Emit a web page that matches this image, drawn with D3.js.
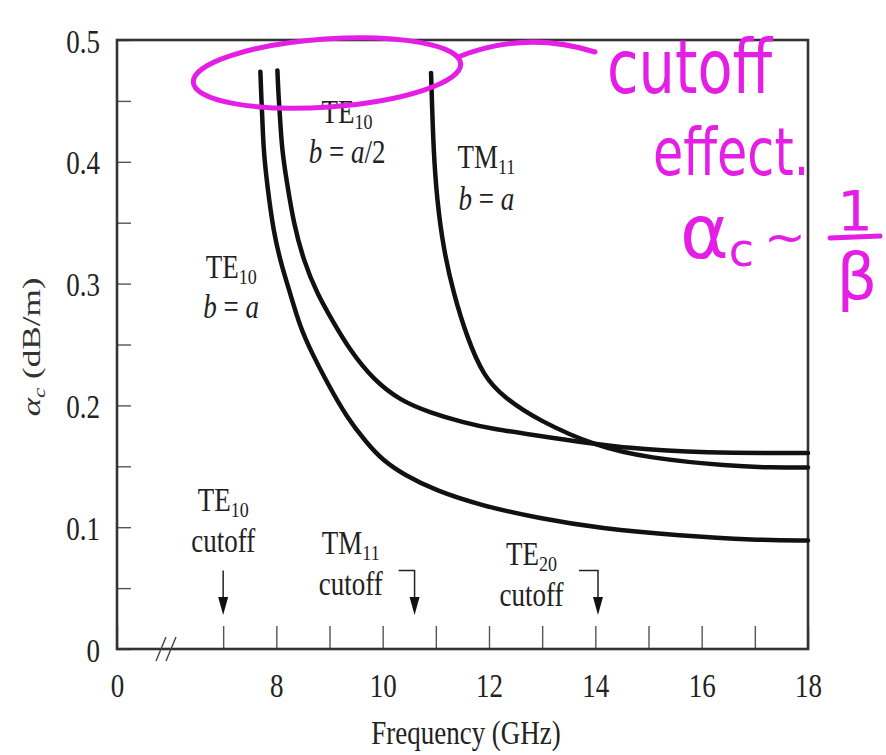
<!DOCTYPE html>
<html>
<head>
<meta charset="utf-8">
<script src="https://cdn.jsdelivr.net/npm/d3@7"></script>
<style>
  html, body { margin: 0; padding: 0; background: #fff; }
  svg { display: block; }
  .serif { font-family: "Liberation Serif", "Times New Roman", serif; fill: #222; }
  .hand { font-family: "DejaVu Sans", sans-serif; fill: #e41ee4; }
</style>
</head>
<body>
<svg id="chart" width="886" height="755"></svg>
<script>
// attenuation curves, [frequency GHz, alpha_c dB/m]
const te10Square = [
  [7.70, 0.474], [7.72, 0.450], [7.73, 0.443], [7.758, 0.410], [7.822, 0.383], [7.946, 0.342],
  [8.104, 0.314], [8.261, 0.292], [8.449, 0.264], [8.669, 0.243], [8.951, 0.219],
  [9.327, 0.190], [9.704, 0.169], [10.0, 0.155], [10.4, 0.143], [11.0, 0.130],
  [11.835, 0.118], [12.964, 0.107], [14.093, 0.099], [15.598, 0.093], [17.0, 0.0895], [18.0, 0.089]
];
const te10Half = [
  [8.02, 0.475], [8.04, 0.455], [8.06, 0.443], [8.104, 0.410], [8.199, 0.383], [8.323, 0.350],
  [8.511, 0.319], [8.763, 0.292], [9.075, 0.268], [9.389, 0.245], [9.828, 0.221],
  [10.33, 0.204], [10.895, 0.194], [11.52, 0.186], [12.02, 0.181], [13.1, 0.174],
  [14.66, 0.164], [16.22, 0.161], [17.2, 0.161], [18.0, 0.161]
];
const tm11Square = [
  [10.91, 0.473], [10.93, 0.445], [10.957, 0.410], [11.02, 0.369], [11.145, 0.328], [11.333, 0.292],
  [11.585, 0.256], [11.897, 0.224], [12.268, 0.207], [12.908, 0.188], [14.037, 0.166],
  [14.977, 0.157], [16.54, 0.150], [17.3, 0.149], [18.0, 0.149]
];

// cutoff markers
const cutoffModes = [["TE", "10"], ["TM", "11"], ["TE", "20"]];
const cutoffFreqs = [7.0, 10.6, 14.05];

const xTicks = [0, 7, 8, 9, 10, 11, 12, 13, 14, 15, 16, 17, 18];
const xTickLabels = ["0", "", "8", "", "10", "", "12", "", "14", "", "16", "", "18"];
const yTicks = d3.range(0, 11).map((i) => i * 0.05);
const yTickLabels = ["0", "", "0.1", "", "0.2", "", "0.3", "", "0.4", "", "0.5"];

const svg = d3.select("#chart");
const dims = { left: 117, right: 808, top: 40, bottom: 649 };

// broken axis: 0..6 squeezed into the first bit
const x = d3.scaleLinear().domain([0, 6, 18]).range([dims.left, 170, dims.right]);
const y = d3.scaleLinear().domain([0, 0.5]).range([dims.bottom, dims.top]);

const fontSize = 27;
const stretch = 1.22; // the scanned figure is a bit taller than it is wide

// keep the baseline at (x, y) and stretch the text vertically
function stretchText(sel, sy = stretch) {
  sel.each(function () {
    const t = d3.select(this);
    const tx = +t.attr("x") || 0;
    const ty = +t.attr("y") || 0;
    t.attr("x", 0).attr("y", 0)
      .attr("transform", `translate(${tx},${ty}) scale(1,${sy})`);
  });
}

// axes
const xAxis = svg.append("g")
  .attr("transform", `translate(0,${dims.bottom})`)
  .call(d3.axisBottom(x)
    .tickValues(xTicks)
    .tickSize(-23)
    .tickFormat((d, i) => xTickLabels[i]));

const yAxis = svg.append("g")
  .attr("transform", `translate(${dims.left},0)`)
  .call(d3.axisLeft(y)
    .tickValues(yTicks)
    .tickSize(-14)
    .tickFormat((d, i) => yTickLabels[i]));

[xAxis, yAxis].forEach((g) => {
  g.select(".domain").remove();
  g.selectAll(".tick line").attr("stroke", "#555").attr("stroke-width", 1.4);
  g.selectAll(".tick text")
    .attr("class", "serif")
    .style("font-size", fontSize + "px")
    .attr("dy", null);
});
xAxis.selectAll(".tick text").attr("x", 0).attr("y", 48).call(stretchText);
yAxis.selectAll(".tick text").attr("x", -17).attr("y", 12).call(stretchText);

// frame
svg.append("rect")
  .attr("x", dims.left)
  .attr("y", dims.top)
  .attr("width", dims.right - dims.left)
  .attr("height", dims.bottom - dims.top)
  .attr("fill", "none")
  .attr("stroke", "#333")
  .attr("stroke-width", 2.6);

// axis break marks
const bx = x(0) + 44;
[0, 10].forEach((off) => {
  svg.append("line")
    .attr("x1", bx + off - 5).attr("y1", dims.bottom + 12)
    .attr("x2", bx + off + 5).attr("y2", dims.bottom - 12)
    .attr("stroke", "#444").attr("stroke-width", 1.4);
});

// axis titles
svg.append("text")
  .attr("class", "serif")
  .attr("x", 466)
  .attr("y", 744)
  .attr("text-anchor", "middle")
  .style("font-size", fontSize + "px")
  .text("Frequency (GHz)")
  .call(stretchText);

const yTitle = svg.append("text")
  .attr("class", "serif")
  .attr("transform", `translate(40,347) rotate(-90) scale(1.35,1)`)
  .attr("text-anchor", "middle")
  .style("font-size", "26px")
  .style("fill", "#333");
yTitle.append("tspan").attr("font-style", "italic").text("α");
yTitle.append("tspan").attr("font-style", "italic").attr("font-size", "17px").attr("dy", 5).text("c");
yTitle.append("tspan").attr("dy", -5).text(" (dB/m)");

// curves
const line = d3.line()
  .x((d) => x(d[0]))
  .y((d) => y(d[1]))
  .curve(d3.curveBasis);

svg.append("g")
  .attr("fill", "none")
  .attr("stroke", "#111")
  .attr("stroke-width", 4.5)
  .attr("stroke-linecap", "round")
  .selectAll("path")
  .data([te10Square, te10Half, tm11Square])
  .join("path")
  .attr("d", line);

// two-line labels: mode name with subscript, then a second line
function twoLine(cx, cy, name, sub, second, gap) {
  const t = svg.append("text")
    .attr("class", "serif")
    .attr("x", cx)
    .attr("y", cy)
    .attr("text-anchor", "middle")
    .style("font-size", fontSize + "px");
  t.append("tspan").text(name);
  t.append("tspan").attr("font-size", "18px").attr("dy", 5).text(sub);
  t.call(stretchText);
  const s = svg.append("text")
    .attr("class", "serif")
    .attr("x", cx)
    .attr("y", cy + gap)
    .attr("text-anchor", "middle")
    .style("font-size", fontSize + "px");
  second.forEach(([str, it]) => s.append("tspan").attr("font-style", it ? "italic" : null).text(str));
  s.call(stretchText);
}

twoLine(x(9.33), y(0.432), "TE", "10", [["b", 1], [" = ", 0], ["a", 1], ["/2", 0]], 40);
twoLine(x(11.95), y(0.395), "TM", "11", [["b", 1], [" = ", 0], ["a", 1]], 42);
twoLine(x(7.15), y(0.305), "TE", "10", [["b", 1], [" = ", 0], ["a", 1]], 40);

// cutoff labels and arrows
const labelOffsets = [[0, 0.113], [-1.2, 0.078], [-1.25, 0.069]];
const hookLen = [0, 16, 19];
cutoffFreqs.forEach((f, i) => {
  const [name, sub] = cutoffModes[i];
  twoLine(x(f + labelOffsets[i][0]), y(labelOffsets[i][1]), name, sub, [["cutoff", 0]], 41);

  const ax = x(f);
  const top = y(0.0645);
  const tip = y(0.028);
  const path = d3.path();
  if (hookLen[i]) {
    path.moveTo(ax - hookLen[i], top);
    path.lineTo(ax, top);
  } else {
    path.moveTo(ax, top);
  }
  path.lineTo(ax, tip - 12);
  svg.append("path").attr("d", path.toString())
    .attr("fill", "none").attr("stroke", "#222").attr("stroke-width", 1.5);
  svg.append("path")
    .attr("d", `M${ax - 5},${tip - 18} L${ax + 5},${tip - 18} L${ax},${tip} Z`)
    .attr("fill", "#111");
});

// handwritten annotation
const ink = "#e41ee4";
svg.append("ellipse")
  .attr("transform", "translate(327,73) rotate(-4)")
  .attr("rx", 134).attr("ry", 34)
  .attr("fill", "none").attr("stroke", ink).attr("stroke-width", 5);
svg.append("path")
  .attr("d", "M458,57 Q525,30 595,52")
  .attr("fill", "none").attr("stroke", ink).attr("stroke-width", 5)
  .attr("stroke-linecap", "round");

svg.append("text").attr("class", "hand")
  .attr("transform", "translate(607,93) scale(0.776,1)")
  .style("font-size", "74px")
  .text("cutoff");
svg.append("text").attr("class", "hand")
  .attr("transform", "translate(653,175) scale(0.745,1)")
  .style("font-size", "66px")
  .text("effect.");
const formula = svg.append("text").attr("class", "hand")
  .attr("x", 680).attr("y", 258)
  .style("font-size", "74px");
formula.append("tspan").text("α");
formula.append("tspan").attr("font-size", "46px").attr("dy", 8).text("c");
formula.append("tspan").attr("font-size", "50px").attr("dy", -12).attr("dx", 10).text("~");
svg.append("text").attr("class", "hand")
  .attr("x", 855).attr("y", 230).attr("text-anchor", "middle")
  .style("font-size", "56px").text("1");
svg.append("line")
  .attr("x1", 830).attr("x2", 880).attr("y1", 238).attr("y2", 236)
  .attr("stroke", ink).attr("stroke-width", 5).attr("stroke-linecap", "round");
svg.append("text").attr("class", "hand")
  .attr("x", 857).attr("y", 299).attr("text-anchor", "middle")
  .style("font-size", "64px").text("β");
</script>
</body>
</html>
